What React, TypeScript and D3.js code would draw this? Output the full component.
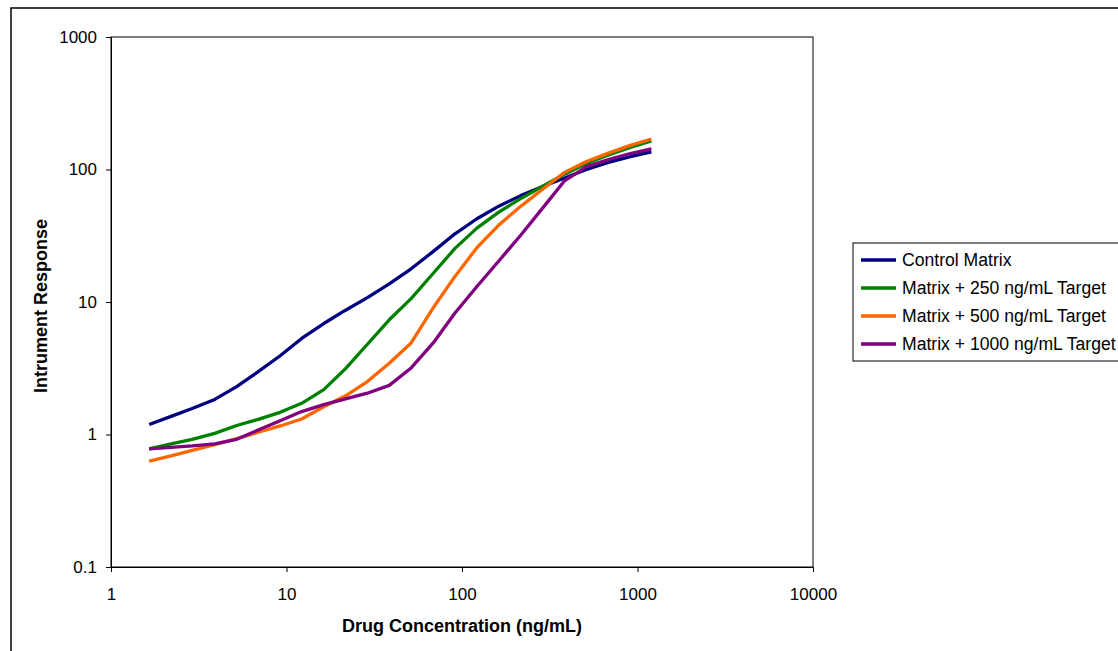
import React, { useRef, useEffect } from 'react';
import * as d3 from 'd3';

// drug concentration (ng/mL)
const concentrations = [
  1.65, 2.2, 2.9, 3.9, 5.2, 6.9, 9.2, 12.2, 16.3, 21.7, 28.9, 38.5,
  51.3, 68.4, 91.2, 121.6, 162, 216, 288, 384, 512, 683, 910, 1200,
];

const controlMatrix = [
  1.19, 1.37, 1.57, 1.84, 2.3, 2.98, 3.93, 5.31, 6.88, 8.67, 10.8, 13.7,
  17.8, 24.0, 32.7, 42.5, 52.9, 63.5, 74.3, 86.4, 100, 113, 125, 136,
];
const matrix250 = [
  0.78, 0.85, 0.92, 1.02, 1.17, 1.3, 1.47, 1.72, 2.18, 3.14, 4.8, 7.34,
  10.6, 16.4, 25.4, 36.1, 47.7, 60.3, 74.7, 92.2, 111, 129, 147, 164,
];
const matrix500 = [
  0.63, 0.69, 0.76, 0.84, 0.93, 1.04, 1.16, 1.31, 1.62, 1.96, 2.51, 3.45,
  4.91, 9.0, 15.6, 25.7, 38.1, 52.7, 71.0, 95.1, 115, 133, 152, 170,
];
const matrix1000 = [
  0.78, 0.8, 0.82, 0.85, 0.92, 1.08, 1.27, 1.49, 1.68, 1.86, 2.05, 2.35,
  3.18, 4.89, 8.26, 13.1, 20.4, 31.9, 51.1, 82.2, 105, 119, 132, 143,
];

const seriesNames = [
  'Control Matrix',
  'Matrix + 250 ng/mL Target',
  'Matrix + 500 ng/mL Target',
  'Matrix + 1000 ng/mL Target',
];
const seriesValues = [controlMatrix, matrix250, matrix500, matrix1000];
const seriesColors = ['#000080', '#008000', '#FF6600', '#800080'];

const xTicks = [1, 10, 100, 1000, 10000];
const yTicks = [0.1, 1, 10, 100, 1000];

const FONT = 'Liberation Sans, Arial, sans-serif';

const App: React.FC = () => {
  const svgRef = useRef<SVGSVGElement | null>(null);
  const width = 1118;
  const height = 651;

  useEffect(() => {
    const svg = d3.select(svgRef.current);
    svg.selectAll('*').remove();

    const plot = { left: 111, top: 37, right: 813, bottom: 567 };

    const x = d3.scaleLog().domain([1, 10000]).range([plot.left, plot.right]);
    const y = d3.scaleLog().domain([0.1, 1000]).range([plot.bottom, plot.top]);

    // outer chart frame (runs off the right and bottom edges)
    svg.append('rect')
      .attr('x', 11).attr('y', 8)
      .attr('width', 1300).attr('height', 800)
      .attr('fill', 'none').attr('stroke', '#000').attr('stroke-width', 1.5);

    // plot area border
    svg.append('rect')
      .attr('x', plot.left).attr('y', plot.top)
      .attr('width', plot.right - plot.left).attr('height', plot.bottom - plot.top)
      .attr('fill', 'none').attr('stroke', '#000').attr('stroke-width', 1);

    // axes
    const xAxis = svg.append('g')
      .attr('transform', `translate(0,${plot.bottom})`)
      .call(d3.axisBottom(x).tickValues(xTicks).tickFormat(d3.format('d'))
        .tickSize(5).tickSizeOuter(0).tickPadding(16));
    const yAxis = svg.append('g')
      .attr('transform', `translate(${plot.left},0)`)
      .call(d3.axisLeft(y).tickValues(yTicks).tickFormat(d => String(d))
        .tickSize(5).tickSizeOuter(0).tickPadding(9));

    [xAxis, yAxis].forEach(a => {
      a.select('.domain').attr('stroke', '#000');
      a.selectAll('line').attr('stroke', '#000');
      a.selectAll('text')
        .attr('font-family', FONT)
        .attr('font-size', 17)
        .attr('fill', '#000');
    });

    // axis titles
    svg.append('text')
      .attr('x', (plot.left + plot.right) / 2)
      .attr('y', 632)
      .attr('text-anchor', 'middle')
      .attr('font-family', FONT)
      .attr('font-size', 18)
      .attr('font-weight', 'bold')
      .text('Drug Concentration (ng/mL)');

    svg.append('text')
      .attr('transform', `translate(47,${(plot.top + plot.bottom) / 2 + 4}) rotate(-90)`)
      .attr('text-anchor', 'middle')
      .attr('font-family', FONT)
      .attr('font-size', 18)
      .attr('font-weight', 'bold')
      .text('Intrument Response');

    // lines
    const line = d3.line<number>()
      .x((_, i) => x(concentrations[i]))
      .y(d => y(d));

    svg.append('g')
      .selectAll('path')
      .data(seriesValues)
      .join('path')
      .attr('d', d => line(d))
      .attr('fill', 'none')
      .attr('stroke', (_, i) => seriesColors[i])
      .attr('stroke-width', 3.3)
      .attr('stroke-linejoin', 'round');

    // legend
    const legend = svg.append('g');
    legend.append('rect')
      .attr('x', 853).attr('y', 243)
      .attr('width', 400).attr('height', 118)
      .attr('fill', '#fff').attr('stroke', '#000').attr('stroke-width', 1);

    const items = legend.selectAll('g.item')
      .data(seriesNames)
      .join('g')
      .attr('class', 'item')
      .attr('transform', (_, i) => `translate(0,${260 + i * 28})`);

    items.append('line')
      .attr('x1', 861).attr('x2', 896)
      .attr('stroke', (_, i) => seriesColors[i])
      .attr('stroke-width', 3.3);

    items.append('text')
      .attr('x', 902)
      .attr('dy', '0.35em')
      .attr('font-family', FONT)
      .attr('font-size', 17.6)
      .text(d => d);
  }, []);

  return (
    <svg
      ref={svgRef}
      width={width}
      height={height}
      style={{ position: 'absolute', left: 0, top: 0, background: '#fff' }}
    />
  );
};

export default App;
